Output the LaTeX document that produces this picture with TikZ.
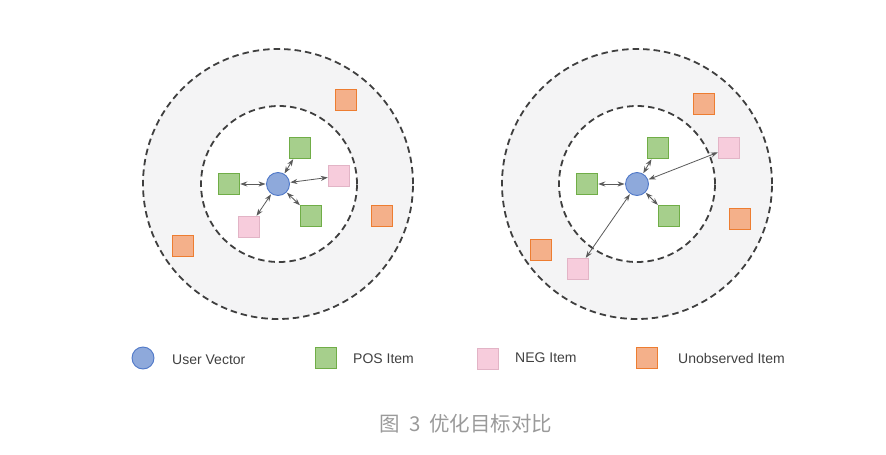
\documentclass[tikz,border=0pt]{standalone}
\usepackage{fontspec}
\setmainfont{Liberation Sans}
\newfontfamily\cjk{Noto Sans CJK SC}
\usetikzlibrary{arrows.meta}
\definecolor{ringc}{HTML}{3F3F3F}
\definecolor{ringbg}{HTML}{F4F4F5}
\definecolor{userf}{HTML}{8EA9DB}
\definecolor{userb}{HTML}{4F78C8}
\definecolor{posf}{HTML}{A6CF8C}
\definecolor{posb}{HTML}{70AD47}
\definecolor{negf}{HTML}{F7CCDC}
\definecolor{negb}{HTML}{E2B4C6}
\definecolor{unof}{HTML}{F4B08A}
\definecolor{unob}{HTML}{ED7D31}
\definecolor{linkc}{HTML}{5A5A5A}
\definecolor{legc}{HTML}{404040}
\definecolor{capc}{HTML}{9A9A9A}
\tikzset{
  ringbox/.style={circle, draw=ringc, line width=1.8pt, dash pattern=on 6.5pt off 4pt, inner sep=0pt},
  uservec/.style={circle, draw=userb, fill=userf, line width=0.9pt, minimum size=23pt, inner sep=0pt},
  sqbox/.style={rectangle, line width=1pt, minimum size=20.5pt, inner sep=0pt},
  positem/.style={sqbox, draw=posb, fill=posf},
  negitem/.style={sqbox, draw=negb, fill=negf},
  unoitem/.style={sqbox, draw=unob, fill=unof},
  linkarrow/.style={draw=linkc, line width=0.8pt, {Stealth[length=7pt,width=5pt]}-{Stealth[length=7pt,width=5pt]}, shorten <=0.5pt, shorten >=0.5pt},
  legtext/.style={anchor=west, text=legc, font=\fontsize{14pt}{16pt}\selectfont, inner sep=0pt}
}
\begin{document}
\begin{tikzpicture}[x=1pt,y=-1pt]
\useasboundingbox (0,0) rectangle (886,455);
% left diagram
\node[ringbox, fill=ringbg, minimum size=270pt] (outerL) at (278,184) {};
\node[ringbox, fill=white, minimum size=156pt] (innerL) at (279,184) {};
\node[uservec] (uL) at (278,184) {};
\node[positem] (pL1) at (300,148) {};
\node[positem] (pL2) at (229,184) {};
\node[positem] (pL3) at (311,216) {};
\node[negitem] (nL1) at (339,176) {};
\node[negitem] (nL2) at (249,227) {};
\node[unoitem] (oL1) at (346,100) {};
\node[unoitem] (oL2) at (382,216) {};
\node[unoitem] (oL3) at (183,246) {};
\draw[linkarrow] (uL) -- (pL1);
\draw[linkarrow] (uL) -- (pL2);
\draw[linkarrow] (uL) -- (pL3);
\draw[linkarrow] (uL) -- (nL1);
\draw[linkarrow] (uL) -- (nL2);
% right diagram
\node[ringbox, fill=ringbg, minimum size=270pt] (outerR) at (637,184) {};
\node[ringbox, fill=white, minimum size=156pt] (innerR) at (637,184) {};
\node[uservec] (uR) at (637,184) {};
\node[positem] (pR1) at (658,148) {};
\node[positem] (pR2) at (587,184) {};
\node[positem] (pR3) at (669,216) {};
\node[negitem] (nR1) at (729,148) {};
\node[negitem] (nR2) at (578,269) {};
\node[unoitem] (oR1) at (704,104) {};
\node[unoitem] (oR2) at (740,219) {};
\node[unoitem] (oR3) at (541,250) {};
\draw[linkarrow] (uR) -- (pR1);
\draw[linkarrow] (uR) -- (pR2);
\draw[linkarrow] (uR) -- (pR3);
\draw[linkarrow] (uR) -- (nR1);
\draw[linkarrow] (uR) -- (nR2);
% legend
\node[uservec, minimum size=22pt] (lgU) at (143,358) {};
\node[legtext] (lgUt) at (172,360) {User Vector};
\node[positem] (lgP) at (326,358) {};
\node[legtext] (lgPt) at (353,359) {POS Item};
\node[negitem] (lgN) at (488,359) {};
\node[legtext] (lgNt) at (515,358) {NEG Item};
\node[unoitem] (lgO) at (647,358) {};
\node[legtext] (lgOt) at (678,358) {Unobserved Item};
% caption
\node[text=capc, font=\cjk\fontsize{20.5pt}{24pt}\selectfont, inner sep=0pt] (cap) at (466,424) {图\hspace{9pt}3\hspace{9pt}优化目标对比};
\end{tikzpicture}
\end{document}
